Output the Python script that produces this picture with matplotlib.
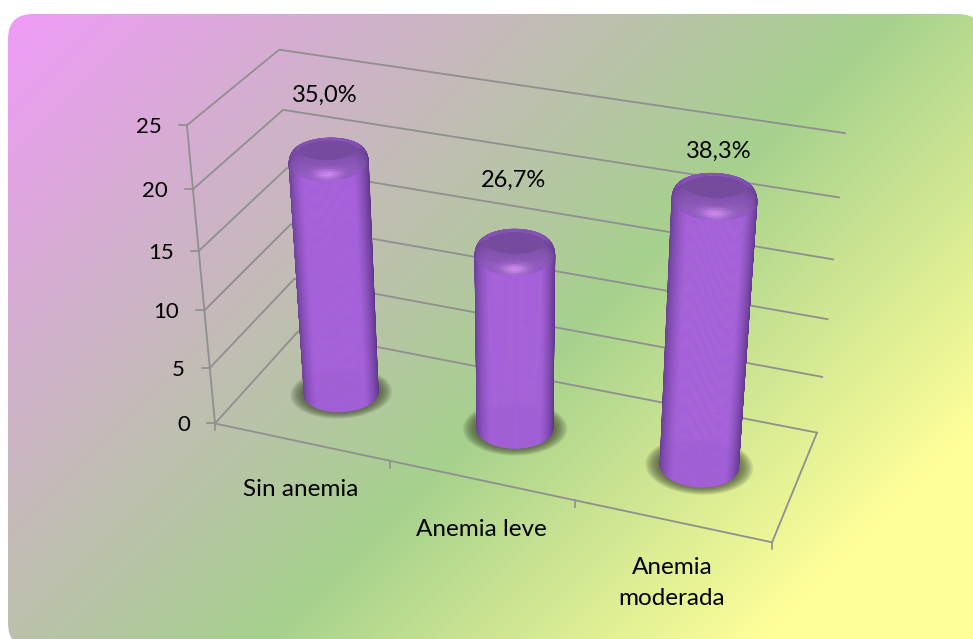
import matplotlib
matplotlib.use("Agg")
import matplotlib.pyplot as plt
import numpy as np
from matplotlib.collections import PolyCollection
from matplotlib.colors import LinearSegmentedColormap, to_rgb
from matplotlib.patches import FancyBboxPatch, Polygon

categories = ["Sin anemia", "Anemia leve", "Anemia\nmoderada"]
counts = [21, 16, 23]
z_ticks = [0, 5, 10, 15, 20, 25]

# box corners (category, depth, value) and where they land on the canvas
box_world = [(0, 0, 0), (3, 0, 0), (3, 1, 0), (0, 1, 0), (0, 0, 25), (0, 1, 25), (3, 1, 25)]
box_pixel = [(215, 424), (772, 542), (817, 433), (298, 331), (187, 125), (279, 50), (845, 133)]

# cylinder footprint, in pixels on the floor at the middle of the chart
FOOT_A = 38.0
FOOT_B = 20.0
TOP_B = 1.12
BEVEL_Z = 0.95
GRID = "#8f8f8f"

plt.rcParams["font.family"] = ["Lato", "DejaVu Sans"]


def fit_camera(world, pixel):
    rows = []
    for (x, y, z), (u, v) in zip(world, pixel):
        p = [x / 3, y, z / 25, 1]
        u, v = u / 1000, v / 1000
        rows.append(p + [0, 0, 0, 0] + [-u * c for c in p])
        rows.append([0, 0, 0, 0] + p + [-v * c for c in p])
    return np.linalg.svd(np.array(rows))[2][-1].reshape(3, 4)


cam = fit_camera(box_world, box_pixel)


def project(x, y, z):
    x, y, z = np.broadcast_arrays(x, y, z)
    pts = np.stack([x / 3, y, z / 25, np.ones(x.shape)])
    h = cam @ pts.reshape(4, -1)
    return (h[:2] / h[2] * 1000).T.reshape(x.shape + (2,))


def floor_basis():
    # floor offsets that read as flat horizontal/vertical on screen
    e = 0.01
    o = project(1.5, 0.5, 0)
    jac = np.column_stack([(project(1.5 + e, 0.5, 0) - o) / e, (project(1.5, 0.5 + e, 0) - o) / e])
    return np.linalg.inv(jac)


basis = floor_basis()


def ring(cx, t, z, ka=1.0, kb=1.0):
    off = basis @ np.vstack([FOOT_A * ka * np.cos(t), FOOT_B * kb * np.sin(t)])
    return project(cx + off[0], 0.5 + off[1], z)


def mix(a, b, t):
    return np.array(to_rgb(a)) * (1 - t) + np.array(to_rgb(b)) * t


def draw_shadow(ax, cx):
    angles = np.linspace(0, 2 * np.pi, 90)
    for k in np.linspace(1.38, 1.0, 16):
        ax.add_patch(Polygon(ring(cx, angles, 0, k, k * 0.98), closed=True, fc="#434a33", ec="none",
                             alpha=0.08, zorder=3))


def draw_cylinder(ax, cx, value):
    n = 120
    theta = np.linspace(-0.08, np.pi + 0.08, n + 1)
    mid = (theta[:-1] + theta[1:]) / 2
    top = ring(cx, np.linspace(0, 2 * np.pi, 180), value)
    left, right = top[:, 0].min(), top[:, 0].max()
    ctr, half = (left + right) / 2, (right - left) / 2
    across = np.clip((ring(cx, mid, value)[:, 0] - ctr) / half, -1, 1)
    facing = np.sqrt(1 - across ** 2)

    # shaft, front half only, painted from the edges in
    polys, colors = [], []
    z_high = value - BEVEL_Z
    for i in np.argsort(-np.abs(across)):
        t = theta[i:i + 2]
        polys.append(np.vstack([ring(cx, t, 0), ring(cx, t[::-1], z_high, 1.0, TOP_B)]))
        edge = "#5c3786" if across[i] > 0 else "#6a4096"
        colors.append(mix(edge, "#a55fdb", min(1, facing[i] * 1.3) ** 1.5))
    ax.add_collection(PolyCollection(polys, facecolors=colors, edgecolors=colors, linewidths=0.4, zorder=4))

    # rounded rim between the shaft and the flat cap
    polys, colors, keys = [], [], []
    full = np.linspace(0, 2 * np.pi, n + 1)
    fm = (full[:-1] + full[1:]) / 2
    across_f = np.clip((ring(cx, fm, value)[:, 0] - ctr) / half, -1, 1)
    facing_f = np.sqrt(1 - across_f ** 2)
    phi = np.radians(np.linspace(0, 90, 11))
    for j in range(len(phi) - 1):
        ka0, ka1 = 1 - 0.27 * (1 - np.cos(phi[[j, j + 1]]))
        kb0, kb1 = TOP_B * (1 - 0.45 * (1 - np.cos(phi[[j, j + 1]])))
        z0, z1 = value - BEVEL_Z * (1 - np.sin(phi[[j, j + 1]]))
        pm = np.degrees(phi[j] + phi[j + 1]) / 2
        for i in range(n):
            t = full[i:i + 2]
            polys.append(np.vstack([ring(cx, t, z0, ka0, kb0), ring(cx, t[::-1], z1, ka1, kb1)]))
            c = mix("#6a4195" if across_f[i] < 0 else "#5f3b88", "#9259c4", min(1, facing_f[i] * 1.4))
            c = c * (1 - pm / 130) + np.array(to_rgb("#7a4ba6")) * (pm / 130)
            glow = np.exp(-(across_f[i] / 0.36) ** 2) * max(np.sin(fm[i]), 0) ** 2 * np.exp(-((pm - 25) / 20) ** 2)
            colors.append(c * (1 - glow) + np.array(to_rgb("#cf88f0")) * glow)
            keys.append(polys[-1][:, 1].mean() + j * 0.001)
    order = np.argsort(keys)
    ax.add_collection(PolyCollection([polys[i] for i in order], facecolors=[colors[i] for i in order],
                                     edgecolors=[colors[i] for i in order], linewidths=0.3, zorder=5))

    ax.add_patch(Polygon(ring(cx, full, value, 0.73, TOP_B * 0.55), closed=True, fc="#754a9f", ec="none", zorder=6))


fig = plt.figure(figsize=(9.73, 6.39), dpi=100)
ax = fig.add_axes([0, 0, 1, 1])
ax.axis("off")

# diagonal pink - green - yellow panel behind the chart
xx, yy = np.meshgrid(np.arange(0, 974), np.arange(0, 640))
pos = np.clip((xx + yy - 22) / (1410 - 22), 0, 1)
cmap = LinearSegmentedColormap.from_list(
    "panel", [(0, "#ef9bf7"), (0.636, "#a6d18d"), (1, "#ffff99")])
panel = FancyBboxPatch((33, 39), 925, 584, boxstyle="round,pad=25,rounding_size=25",
                       fc="none", ec="none", transform=ax.transData)
ax.add_patch(panel)
img = ax.imshow(pos, cmap=cmap, vmin=0, vmax=1, extent=(0, 974, 640, 0), aspect="auto", zorder=1)
img.set_clip_path(panel)
ax.set_xlim(0, 973)
ax.set_ylim(639, 0)

# walls and floor
for z in z_ticks:
    line = project(np.array([0, 0, 3]), np.array([0, 1, 1]), z)
    ax.plot(line[:, 0], line[:, 1], color=GRID, lw=1.3, zorder=2, solid_joinstyle="miter")
    ax.plot([line[0, 0] - 8, line[0, 0]], [line[0, 1], line[0, 1]], color=GRID, lw=1.2, zorder=2)
    ax.text(line[0, 0] - 25, line[0, 1] + 2, str(z), ha="right", va="center", fontsize=16, color="black", zorder=7)

axis = project(0, 0, np.array([0, 25]))
ax.plot(axis[:, 0], axis[:, 1], color=GRID, lw=1.3, zorder=2)
floor = project(np.array([0, 3, 3]), np.array([0, 0, 1]), 0)
ax.plot(floor[:, 0], floor[:, 1], color=GRID, lw=1.3, zorder=2, solid_joinstyle="miter")
for i in range(4):
    p = project(i, 0, 0)
    ax.plot([p[0], p[0]], [p[1], p[1] + 7], color=GRID, lw=1.2, zorder=2)

# cylinders
for i, value in enumerate(counts):
    draw_shadow(ax, i + 0.5)
    draw_cylinder(ax, i + 0.5, value)

# labels
total = sum(counts)
label_xy = [(325, 95), (514, 180), (719, 151)]
for value, (x, y) in zip(counts, label_xy):
    text = f"{value / total * 100:.1f}%".replace(".", ",")
    ax.text(x, y, text, ha="center", va="center", fontsize=17, color="black", zorder=7)

cat_xy = [(301, 489), (481, 529), (672, 583)]
for name, (x, y) in zip(categories, cat_xy):
    ax.text(x, y, name, ha="center", va="center", fontsize=17.5, color="black", linespacing=1.58, zorder=7)

fig.savefig("out.png", dpi=100)
plt.close(fig)
